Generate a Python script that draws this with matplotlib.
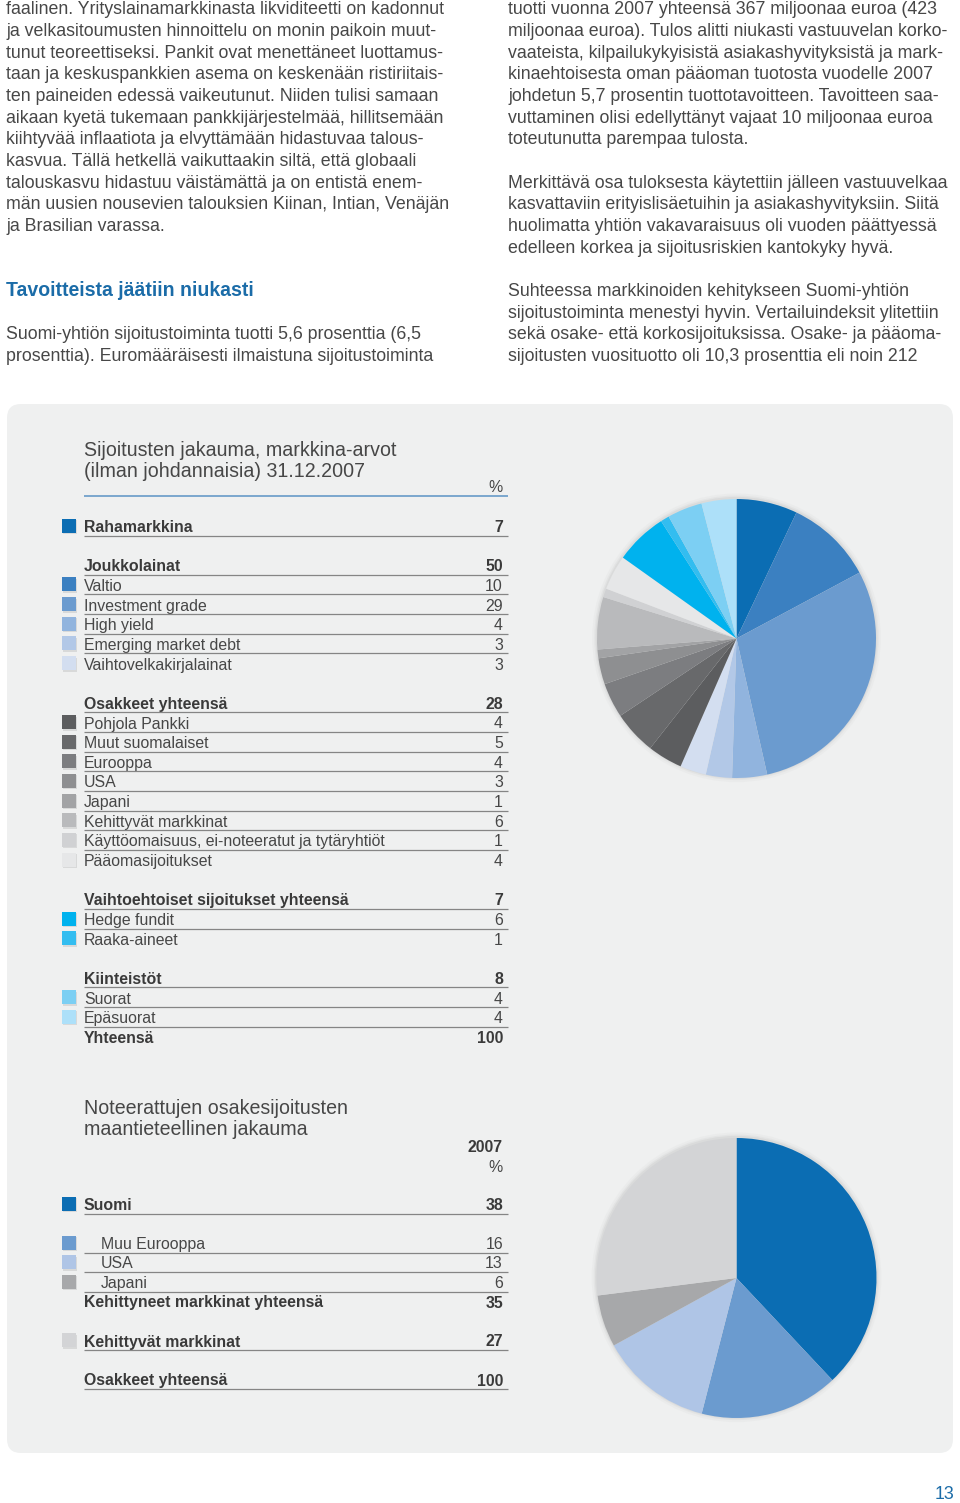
import matplotlib
matplotlib.use("Agg")
import matplotlib.pyplot as plt
from matplotlib.patches import FancyBboxPatch, Rectangle, Circle

# ---------------- data ----------------
left_col_lines = [
    "faalinen. Yrityslainamarkkinasta likviditeetti on kadonnut",
    "ja velkasitoumusten hinnoittelu on monin paikoin muut-",
    "tunut teoreettiseksi. Pankit ovat menettäneet luottamus-",
    "taan ja keskuspankkien asema on keskenään ristiriitais-",
    "ten paineiden edessä vaikeutunut. Niiden tulisi samaan",
    "aikaan kyetä tukemaan pankkijärjestelmää, hillitsemään",
    "kiihtyvää inflaatiota ja elvyttämään hidastuvaa talous-",
    "kasvua. Tällä hetkellä vaikuttaakin siltä, että globaali",
    "talouskasvu hidastuu väistämättä ja on entistä enem-",
    "män uusien nousevien talouksien Kiinan, Intian, Venäjän",
    "ja Brasilian varassa.",
    "",
    "",
]
left_heading = "Tavoitteista jäätiin niukasti"
left_col_tail = [
    "",
    "Suomi-yhtiön sijoitustoiminta tuotti 5,6 prosenttia (6,5",
    "prosenttia). Euromääräisesti ilmaistuna sijoitustoiminta",
]
right_col_lines = [
    "tuotti vuonna 2007 yhteensä 367 miljoonaa euroa (423",
    "miljoonaa euroa). Tulos alitti niukasti vastuuvelan korko-",
    "vaateista, kilpailukykyisistä asiakashyvityksistä ja mark-",
    "kinaehtoisesta oman pääoman tuotosta vuodelle 2007",
    "johdetun 5,7 prosentin tuottotavoitteen. Tavoitteen saa-",
    "vuttaminen olisi edellyttänyt vajaat 10 miljoonaa euroa",
    "toteutunutta parempaa tulosta.",
    "",
    "Merkittävä osa tuloksesta käytettiin jälleen vastuuvelkaa",
    "kasvattaviin erityislisäetuihin ja asiakashyvityksiin. Siitä",
    "huolimatta yhtiön vakavaraisuus oli vuoden päättyessä",
    "edelleen korkea ja sijoitusriskien kantokyky hyvä.",
    "",
    "Suhteessa markkinoiden kehitykseen Suomi-yhtiön",
    "sijoitustoiminta menestyi hyvin. Vertailuindeksit ylitettiin",
    "sekä osake- että korkosijoituksissa. Osake- ja pääoma-",
    "sijoitusten vuosituotto oli 10,3 prosenttia eli noin 212",
]

alloc_title = ["Sijoitusten jakauma, markkina-arvot", "(ilman johdannaisia) 31.12.2007"]
alloc_unit = "%"
alloc_labels = [
    "Rahamarkkina",
    "Joukkolainat", "Valtio", "Investment grade", "High yield",
    "Emerging market debt", "Vaihtovelkakirjalainat",
    "Osakkeet yhteensä", "Pohjola Pankki", "Muut suomalaiset", "Eurooppa",
    "USA", "Japani", "Kehittyvät markkinat",
    "Käyttöomaisuus, ei-noteeratut ja tytäryhtiöt", "Pääomasijoitukset",
    "Vaihtoehtoiset sijoitukset yhteensä", "Hedge fundit", "Raaka-aineet",
    "Kiinteistöt", "Suorat", "Epäsuorat",
    "Yhteensä",
]
alloc_values = [7, 50, 10, 29, 4, 3, 3, 28, 4, 5, 4, 3, 1, 6, 1, 4, 7, 6, 1, 8, 4, 4, 100]
alloc_bold = [1, 1, 0, 0, 0, 0, 0, 1, 0, 0, 0, 0, 0, 0, 0, 0, 1, 0, 0, 1, 0, 0, 1]
alloc_rows = [0, 2, 3, 4, 5, 6, 7, 9, 10, 11, 12, 13, 14, 15, 16, 17, 19, 20, 21, 23, 24, 25, 26]
alloc_line = [1, 1, 1, 1, 1, 1, 0, 1, 1, 1, 1, 1, 1, 1, 1, 0, 1, 1, 0, 1, 1, 1, 0]
alloc_colors = [
    "#0b6db3",
    None, "#3b80c1", "#6b9bcf", "#91b4de", "#b2c8e7", "#d3def0",
    None, "#5c5d5f", "#68696b", "#7c7d80", "#8e8f91", "#a2a3a5", "#b9babc",
    "#d0d1d3", "#e6e7e8",
    None, "#00b2ee", "#33bdf0",
    None, "#7ccff3", "#ade0f9",
    None,
]

geo_title = ["Noteerattujen osakesijoitusten", "maantieteellinen jakauma"]
geo_year = "2007"
geo_unit = "%"
geo_labels = ["Suomi", "Muu Eurooppa", "USA", "Japani",
              "Kehittyneet markkinat yhteensä", "Kehittyvät markkinat",
              "Osakkeet yhteensä"]
geo_values = [38, 16, 13, 6, 35, 27, 100]
geo_bold = [1, 0, 0, 0, 1, 1, 1]
geo_indent = [0, 1, 1, 1, 0, 0, 0]
geo_rows = [0, 2, 3, 4, 5, 7, 9]
geo_line = [1, 1, 1, 1, 0, 1, 1]
geo_colors = ["#0b6db3", "#6b9bcf", "#afc5e6", "#a7a8aa", None, "#d3d4d6", None]

page_number = "13"

# ---------------- figure ----------------
W, H, DPI = 960, 1503, 100
FONT = ["Liberation Sans", "DejaVu Sans"]
TXT = "#474747"
TXT_B = "#3a3a3a"
BLUE = "#1b6ca8"

fig = plt.figure(figsize=(W / DPI, H / DPI), dpi=DPI)
fig.patch.set_facecolor("white")
ax = fig.add_axes([0, 0, 1, 1])
ax.set_xlim(0, W)
ax.set_ylim(H, 0)
ax.axis("off")
renderer = fig.canvas.get_renderer()


def fit_size(s, target, weight="normal"):
    t = ax.text(0, 0, s, fontsize=10, family=FONT, weight=weight)
    w = t.get_window_extent(renderer).width
    t.remove()
    return 10.0 * target / w


body_fits = [fit_size(left_col_lines[0], 441), fit_size(left_col_lines[1], 441),
             fit_size(right_col_lines[8], 442), fit_size(right_col_lines[14], 435),
             fit_size(left_col_lines[9], 441)]
body_fs = sum(body_fits) / len(body_fits)
head_fs = fit_size(left_heading, 248, "bold")
table_fs = fit_size(alloc_labels[14], 303)
title_fs = fit_size(alloc_title[0], 313)

# ---------------- body text ----------------
LH = 21.65
B0 = 14.5
for i, s in enumerate(left_col_lines):
    if s:
        ax.text(6, B0 + i * LH, s, fontsize=body_fs, family=FONT, color=TXT, va="baseline")
ax.text(6, B0 + 13 * LH, left_heading, fontsize=head_fs, family=FONT,
        weight="bold", color=BLUE, va="baseline")
for j, s in enumerate(left_col_tail):
    if s:
        ax.text(6, B0 + (14 + j) * LH, s, fontsize=body_fs, family=FONT, color=TXT, va="baseline")
for i, s in enumerate(right_col_lines):
    if s:
        ax.text(508, B0 + i * LH, s, fontsize=body_fs, family=FONT, color=TXT, va="baseline")

# ---------------- panel ----------------
panel = FancyBboxPatch((7, 404), 946, 1049, boxstyle="round,pad=0,rounding_size=14",
                       fc="#eff0f0", ec="none", zorder=0)
ax.add_patch(panel)

XL, XR, XV = 84, 508, 503


def swatch(y_base, color):
    ax.add_patch(Rectangle((63, y_base - 12), 14, 14, fc="#c9cacb", ec="none", alpha=0.6, zorder=1))
    ax.add_patch(Rectangle((62, y_base - 13.5), 14, 14, fc=color, ec="none", zorder=2))


def table(labels, values, bold, rows, lines, colors, base, step, indent=None):
    for k, lab in enumerate(labels):
        yb = base + rows[k] * step
        w = "bold" if bold[k] else "normal"
        c = TXT_B if bold[k] else TXT
        x = XL + (17 if (indent and indent[k]) else 0)
        ax.text(x, yb, lab, fontsize=table_fs, family=FONT, weight=w, color=c, va="baseline", zorder=3)
        ax.text(XV, yb, str(values[k]), fontsize=table_fs, family=FONT, weight=w, color=c,
                va="baseline", ha="right", zorder=3)
        if lines[k]:
            ax.plot([XL, XR], [yb + 3.5, yb + 3.5], color="#858585", lw=0.9, zorder=3,
                    solid_capstyle="butt")
        if colors[k]:
            swatch(yb, colors[k])


# table 1
ax.text(XL, 456, alloc_title[0], fontsize=title_fs, family=FONT, color=TXT, va="baseline")
ax.text(XL, 477, alloc_title[1], fontsize=title_fs, family=FONT, color=TXT, va="baseline")
ax.text(XV, 492, alloc_unit, fontsize=table_fs, family=FONT, color=TXT, va="baseline", ha="right")
ax.plot([XL, XR], [496, 496], color="#5b93c4", lw=1.1, solid_capstyle="butt")
table(alloc_labels, alloc_values, alloc_bold, alloc_rows, alloc_line, alloc_colors, 532, 19.65)

# table 2
ax.text(XL, 1114, geo_title[0], fontsize=title_fs, family=FONT, color=TXT, va="baseline")
ax.text(XL, 1135, geo_title[1], fontsize=title_fs, family=FONT, color=TXT, va="baseline")
ax.text(XV, 1152, geo_year, fontsize=table_fs, family=FONT, weight="bold", color=TXT_B,
        va="baseline", ha="right")
ax.text(XV, 1172, geo_unit, fontsize=table_fs, family=FONT, color=TXT, va="baseline", ha="right")
table(geo_labels, geo_values, geo_bold, geo_rows, geo_line, geo_colors, 1210, 19.5, geo_indent)

# page number
ax.text(954, 1499, page_number, fontsize=body_fs, family=FONT, color=BLUE, va="baseline", ha="right")


# ---------------- pies ----------------
def pie_axes(cx, cy, r, pad=12):
    side = 2 * (r + pad)
    a = fig.add_axes([(cx - r - pad) / W, 1 - (cy + r + pad) / H, side / W, side / H])
    lim = (r + pad) / r
    a.set_aspect("equal")
    a.axis("off")
    for rr, al in [(1.035, 0.05), (1.02, 0.08), (1.01, 0.12)]:
        a.add_patch(Circle((0, 0.005), rr, fc="#9a9b9c", ec="none", alpha=al, zorder=0))
    return a, lim


p1_vals = [v for v, c in zip(alloc_values, alloc_colors) if c]
p1_cols = [c for c in alloc_colors if c]
a1, lim1 = pie_axes(736.5, 638.5, 139.5)
a1.pie(p1_vals, colors=p1_cols, startangle=90, counterclock=False, radius=1,
       wedgeprops=dict(linewidth=0, edgecolor="none"))
a1.set_xlim(-lim1, lim1)
a1.set_ylim(-lim1, lim1)

p2_vals = [v for v, c in zip(geo_values, geo_colors) if c]
p2_cols = [c for c in geo_colors if c]
a2, lim2 = pie_axes(736.5, 1278, 140)
a2.pie(p2_vals, colors=p2_cols, startangle=90, counterclock=False, radius=1,
       wedgeprops=dict(linewidth=0, edgecolor="none"))
a2.set_xlim(-lim2, lim2)
a2.set_ylim(-lim2, lim2)

fig.savefig("out.png", dpi=DPI, facecolor="white")
